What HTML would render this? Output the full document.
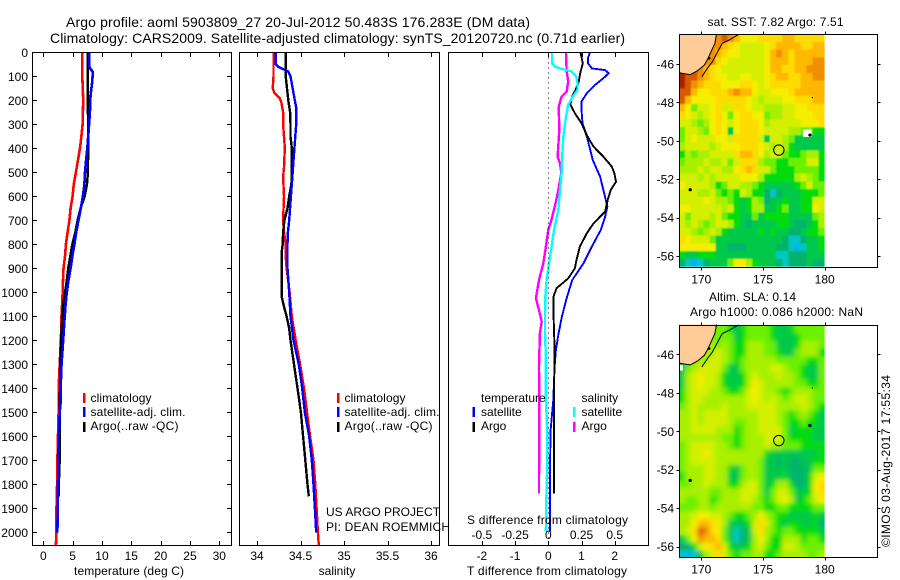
<!DOCTYPE html>
<html lang="en">
<head>
<meta charset="utf-8">
<title>Argo profile 5903809_27</title>
<style>
html,body{margin:0;padding:0;background:#fff;width:900px;height:580px;overflow:hidden}
svg{display:block}
text{font-family:"Liberation Sans",Arial,sans-serif;font-size:12px;fill:#000}
.title{font-size:14px}
.crisp{shape-rendering:crispEdges}
</style>
</head>
<body>
<svg id="chart" xmlns="http://www.w3.org/2000/svg" width="900" height="580" viewBox="0 0 900 580">
  <defs>
    <filter id="soft-sst" filterUnits="userSpaceOnUse" x="670" y="25" width="170" height="250">
      <feGaussianBlur in="SourceGraphic" stdDeviation="0.9" result="b"/>
      <feMerge><feMergeNode in="SourceGraphic"/><feMergeNode in="b"/></feMerge>
    </filter>
    <filter id="soft-sla" filterUnits="userSpaceOnUse" x="670" y="315" width="170" height="250">
      <feGaussianBlur in="SourceGraphic" stdDeviation="2.4" result="b"/>
      <feMerge><feMergeNode in="SourceGraphic"/><feMergeNode in="b"/></feMerge>
    </filter>
    <clipPath id="clip-sst"><rect x="679.5" y="34.5" width="145.2" height="233"/></clipPath>
    <clipPath id="clip-sla"><rect x="679.5" y="325.5" width="145.2" height="232"/></clipPath>
  </defs>
  <rect x="0" y="0" width="900" height="580" fill="#fff"/>
  <text class="title" x="66" y="27" textLength="464">Argo profile: aoml 5903809_27 20-Jul-2012 50.483S 176.283E (DM data)</text>
  <text class="title" x="50" y="43" textLength="575">Climatology: CARS2009. Satellite-adjusted climatology: synTS_20120720.nc (0.71d earlier)</text>

  <g id="heat-layer"></g>
  <g id="line-layer"></g>
  <g id="axis-layer"></g>

  <text x="129" y="575" text-anchor="middle" textLength="110">temperature (deg C)</text>
  <text x="337" y="575" text-anchor="middle">salinity</text>
  <text x="467" y="575" textLength="160">T difference from climatology</text>
  <text x="467" y="524" textLength="161">S difference from climatology</text>

  <g>
    <rect class="crisp" x="83" y="393" width="2.5" height="10" fill="#f00"/>
    <rect class="crisp" x="83" y="407" width="2.5" height="10" fill="#00f"/>
    <rect class="crisp" x="83" y="422" width="2.5" height="10" fill="#000"/>
    <text x="90.5" y="402" textLength="61">climatology</text>
    <text x="90.5" y="416" textLength="95">satellite-adj. clim.</text>
    <text x="90.5" y="430" textLength="88">Argo(..raw -QC)</text>
  </g>
  <g>
    <rect class="crisp" x="337" y="393" width="2.5" height="10" fill="#f00"/>
    <rect class="crisp" x="337" y="407" width="2.5" height="10" fill="#00f"/>
    <rect class="crisp" x="337" y="422" width="2.5" height="10" fill="#000"/>
    <text x="344.5" y="402" textLength="61">climatology</text>
    <text x="344.5" y="416" textLength="95">satellite-adj. clim.</text>
    <text x="344.5" y="430" textLength="88">Argo(..raw -QC)</text>
  </g>
  <text x="326" y="516">US ARGO PROJECT</text>
  <text x="326" y="531" textLength="124">PI: DEAN ROEMMICH</text>
  <g>
    <text x="481" y="402">temperature</text>
    <text x="581.5" y="402">salinity</text>
    <rect class="crisp" x="472.5" y="407" width="2.5" height="10" fill="#00f"/>
    <rect class="crisp" x="472.5" y="422" width="2.5" height="10" fill="#000"/>
    <rect class="crisp" x="573" y="407" width="2.5" height="10" fill="#0ff"/>
    <rect class="crisp" x="573" y="422" width="2.5" height="10" fill="#f0f"/>
    <text x="481" y="416">satellite</text>
    <text x="481" y="430">Argo</text>
    <text x="581.5" y="416">satellite</text>
    <text x="581.5" y="430">Argo</text>
  </g>
  <text x="707.5" y="26" textLength="136">sat. SST: 7.82 Argo: 7.51</text>
  <text x="709" y="301" textLength="87">Altim. SLA: 0.14</text>
  <text x="690" y="316" textLength="173">Argo h1000: 0.086 h2000: NaN</text>
  <text transform="translate(890,547) rotate(-90)" textLength="172">©IMOS 03-Aug-2017 17:55:34</text>
</svg>
<script>
// ---- Profile data: temperature panel (depth in m, value in deg C)
const tempDepthTicks = [0,100,200,300,400,500,600,700,800,900,1000,1100,1200,1300,1400,1500,1600,1700,1800,1900,2000];
const tempTicks = [0,5,10,15,20,25,30];
const tempClimDepth = [0,100,200,300,350,400,450,500,550,600,650,700,750,800,850,900,950,1000,1100,1200,1300,1400,1500,1600,1700,1800,1900,2000,2054];
const tempClimValue = [6.65,6.65,6.8,6.7,6.5,6.25,5.9,5.55,5.2,5,4.65,4.45,4.15,3.85,3.7,3.45,3.35,3.3,3.1,3,2.8,2.6,2.6,2.5,2.4,2.35,2.25,2.25,2.15];
const tempSatDepth = [0,60,70,80,100,130,180,250,300,400,450,500,550,600,650,700,750,800,850,900,950,1000,1050,1100,1200,1300,1400,1460,1500,1600,1700,1800,1900,2000];
const tempSatValue = [7.85,7.85,8.05,8.4,8.4,8.3,8.05,7.95,7.8,7.5,7.3,7.1,7,6.75,6.4,6,5.6,5.3,4.95,4.65,4.3,4,3.8,3.65,3.4,3.1,2.95,2.95,2.8,2.65,2.55,2.5,2.45,2.4];
const tempArgoDepth = [0,100,200,300,400,500,550,600,650,700,750,800,850,900,950,1000,1050,1100,1200,1300,1400,1500,1600,1700,1800,1850];
const tempArgoValue = [7.55,7.55,7.55,7.65,7.65,7.6,7.45,7.05,6.35,5.85,5.45,4.95,4.6,4.25,4,3.7,3.4,3.25,3,2.9,2.85,2.8,2.8,2.8,2.65,2.65];

// ---- Salinity panel
const salTicks = [34,34.5,35,35.5,36];
const salTickLabels = ['34','34.5','35','35.5','36'];
const salClimDepth = [0,50,100,150,170,190,210,250,300,350,400,480,520,600,700,750,800,850,900,1000,1100,1200,1300,1400,1500,1600,1700,1800,1900,2000,2054];
const salClimValue = [34.19,34.19,34.19,34.18,34.2,34.26,34.28,34.3,34.3,34.31,34.32,34.31,34.3,34.31,34.3,34.31,34.33,34.33,34.34,34.375,34.4,34.445,34.495,34.54,34.575,34.61,34.65,34.67,34.685,34.7,34.71];
const salSatDepth = [0,50,60,70,80,100,130,170,200,230,300,350,400,450,500,600,700,750,800,900,1000,1100,1200,1300,1400,1500,1600,1700,1800,1900,2000];
const salSatValue = [34.215,34.215,34.245,34.3,34.36,34.385,34.4,34.42,34.435,34.45,34.45,34.44,34.43,34.42,34.41,34.39,34.37,34.355,34.35,34.35,34.37,34.385,34.42,34.48,34.52,34.55,34.6,34.63,34.65,34.665,34.68];
const salArgoDepth = [0,100,150,200,250,300,350,400,500,550,600,650,700,750,800,830,900,1000,1020,1060,1100,1150,1200,1300,1400,1500,1600,1700,1800,1850];
const salArgoValue = [34.33,34.33,34.345,34.36,34.38,34.385,34.385,34.4,34.4,34.395,34.37,34.35,34.315,34.3,34.295,34.285,34.285,34.285,34.285,34.31,34.34,34.37,34.385,34.425,34.465,34.505,34.53,34.555,34.58,34.595];

// ---- Difference panel
const diffTTicks = [-2,-1,0,1,2];
const diffSTicks = [-0.5,-0.25,0,0.25,0.5];
const diffSTickLabels = ['-0.5','-0.25','0','0.25','0.5'];
const dTSatDepth = [0,25,46,67,74,87,108,136,171,205,240,296,351,449,518,574,643,685,740,810,879,949,1025,1101,1171,1240,1310,1449,1574,1726,1865,1997];
const dTSatValue = [1.26,1.19,1.2,1.31,1.71,1.82,1.66,1.41,1.16,1,1,1.03,1.16,1.34,1.56,1.66,1.78,1.71,1.58,1.31,1.06,0.72,0.55,0.41,0.31,0.23,0.19,0.15,0.07,0.05,0.05,0.05];
const dTArgoDepth = [0,46,67,87,122,157,185,219,254,296,351,393,435,476,504,539,574,615,664,713,754,810,865,900,942,983,1020,1101,1240,1449,1838];
const dTArgoValue = [0.97,1.04,1,0.96,0.92,0.82,0.71,0.67,0.8,1,1.18,1.36,1.66,1.91,1.99,2.04,1.88,1.79,1.71,1.36,1.16,0.95,0.85,0.8,0.6,0.25,0.15,0.16,0.19,0.17,0.17];
const dSSatDepth = [0,46,60,71,80,101,129,157,185,219,268,351,435,504,574,657,740,810,879,949,1025,1101,1171,1240,1310,1449,1574,1726,1865,1997];
const dSSatValue = [0.028,0.028,0.05,0.113,0.176,0.21,0.22,0.22,0.183,0.15,0.133,0.113,0.105,0.1,0.088,0.075,0.043,0.025,0.005,-0.013,-0.023,-0.025,-0.025,-0.02,-0.018,-0.018,-0.008,-0.008,-0.015,-0.018];
const dSArgoDepth = [0,74,122,164,185,226,324,435,463,504,574,629,699,740,810,879,949,1025,1074,1122,1171,1310,1449,1838];
const dSArgoValue = [0.133,0.138,0.15,0.138,0.1,0.078,0.083,0.07,0.088,0.098,0.075,0.055,0.023,0,-0.018,-0.038,-0.07,-0.093,-0.07,-0.05,-0.063,-0.07,-0.068,-0.07];

// ---- Map data
const mapLonTicks = [170,175,180];
const mapLatTicks = [-46,-48,-50,-52,-54,-56];
const floatLon = 176.283;
const floatLat = -50.483;
const landLon = [168.2,171.23,171.1,170.85,170.55,170.25,169.7,169.1,168.47,168.2];
const landLat = [-44.45,-44.45,-44.92,-45.27,-45.7,-46.05,-46.35,-46.55,-46.49,-46.45];
const coastLon = [173,172.25,171.7,171.4,170.9,170.5,170.04];
const coastLat = [-44.47,-44.75,-44.92,-45.27,-45.88,-46.22,-46.66];
const islandLon = [178.8,169.1,179,170.63];
const islandLat = [-49.7,-52.55,-47.75,-45.7];
const islandRadius = [1.6,1.6,0.6,1.4];
const gapSstLon = [178.25,178.95];
const gapSstLat = [-49.4,-49.8];
const gapSlaLon = [168.25,168.5];
const gapSlaLat = [-46.55,-46.85];
// colour index per grid cell; 24 columns 168.2E..180E, 30 rows 44.45S..56.55S
const sstGrid = [
[11,11,11,11,11,11,11,12,11,10,8,8,8,9,9,9,9,10,10,9,9,9,9,9],
[11,11,11,11,11,11,11,10,9,8,7,7,7,7,8,9,10,10,10,10,9,9,10,10],
[11,11,11,11,11,11,10,9,8,8,7,7,7,7,8,10,11,10,9,10,10,10,10,10],
[11,11,11,11,11,11,9,8,7,7,7,7,7,7,8,10,10,10,9,10,10,10,11,11],
[12,12,12,11,10,9,8,7,7,7,7,7,7,7,8,10,10,9,9,10,10,11,11,11],
[13,12,12,11,10,9,8,8,7,7,8,8,7,7,8,9,10,10,9,9,10,10,11,11],
[13,12,11,10,9,9,9,8,8,8,9,9,8,7,8,9,9,9,9,9,10,10,10,10],
[12,12,10,8,8,9,9,9,10,11,10,10,8,7,7,8,8,8,9,10,10,10,10,10],
[12,10,8,8,8,8,9,9,9,9,9,8,7,6,7,7,7,8,8,9,9,9,10,10],
[10,8,5,7,7,8,9,7,7,9,9,8,7,7,6,6,6,7,7,8,8,9,9,9],
[9,8,7,6,7,8,9,8,5,8,9,9,8,8,5,6,6,7,7,8,8,8,9,9],
[7,7,6,5,6,8,9,8,7,8,9,9,9,8,6,7,7,7,7,7,8,8,8,9],
[5,7,7,6,5,8,9,8,3,8,9,9,9,8,7,7,7,7,6,6,5,5,4,4],
[5,7,8,7,7,7,8,8,7,9,9,9,9,7,3,7,7,6,5,3,3,3,3,3],
[6,7,7,7,7,6,7,8,8,8,9,9,9,8,7,6,7,6,4,3,3,3,3,3],
[4,6,5,6,6,7,7,7,7,9,10,10,9,8,6,7,7,5,4,4,5,6,6,4],
[5,6,6,6,7,6,6,7,5,7,9,9,9,6,5,5,4,4,5,5,5,7,7,4],
[6,6,6,7,6,7,7,6,6,8,9,10,9,7,7,5,4,4,4,5,5,5,5,4],
[7,7,7,6,7,6,7,7,7,7,8,8,8,6,4,4,4,4,4,6,7,6,5,4],
[8,7,7,7,7,6,4,5,7,7,6,6,5,4,3,3,3,3,3,4,5,7,5,5],
[7,7,7,6,6,7,5,4,5,4,7,6,4,4,2,1,2,3,3,3,4,4,4,5],
[7,7,7,7,8,7,6,6,5,4,3,4,6,5,2,3,3,4,3,3,4,4,7,7],
[8,8,7,7,7,7,7,6,7,4,3,4,6,6,3,3,4,5,3,3,4,4,8,7],
[7,5,7,7,7,6,7,5,4,4,3,3,5,3,4,4,4,4,3,3,3,3,5,6],
[7,6,7,6,5,6,7,7,6,4,3,2,3,3,3,3,4,4,3,2,2,3,4,6],
[7,7,6,5,6,7,6,4,3,3,3,3,3,4,3,4,3,3,2,2,3,4,4,5],
[9,8,7,7,7,5,3,3,3,3,3,3,3,3,3,3,3,2,1,1,2,3,3,4],
[8,8,8,8,8,8,3,3,2,2,2,3,3,3,3,3,2,2,1,0,1,3,3,4],
[4,3,3,4,4,4,3,3,3,3,3,3,3,3,3,3,1,1,2,2,2,3,3,3],
[2,1,0,1,2,3,3,3,5,8,8,6,4,3,3,3,2,1,2,2,2,3,2,2]
];
const slaGrid = [
[5,5,5,5,5,5,5,5,4,3,4,5,5,5,5,4,3,3,4,5,5,5,5,5],
[5,5,5,5,5,5,5,5,5,3,4,5,5,5,5,4,3,3,3,4,5,5,5,5],
[5,5,5,5,5,6,5,6,5,4,4,6,6,6,5,5,3,3,3,4,6,6,6,5],
[5,5,5,5,6,6,7,6,5,4,4,6,6,6,5,5,4,3,3,5,6,6,6,4],
[4,4,5,6,6,7,7,6,5,4,5,6,6,6,6,6,5,5,5,5,5,4,4,5],
[3,5,6,7,7,7,7,5,3,3,5,6,6,6,6,7,7,6,5,5,4,3,3,5],
[3,6,7,8,7,7,6,4,3,3,4,6,7,6,6,6,7,6,6,5,4,3,3,5],
[3,6,7,8,7,7,6,4,3,3,4,6,8,7,6,6,6,6,6,5,5,4,4,5],
[4,6,7,7,7,6,6,5,4,4,5,7,8,7,6,6,5,4,5,6,6,6,5,5],
[4,6,7,7,6,6,6,6,6,6,6,7,8,7,6,7,6,5,6,7,7,6,5,5],
[5,6,7,6,6,6,6,7,6,6,6,7,7,7,7,7,6,6,6,6,7,6,5,4],
[6,6,7,6,7,7,7,7,6,6,6,6,6,7,7,7,6,5,4,5,6,5,4,3],
[6,6,7,6,7,7,7,7,6,5,5,6,6,7,7,7,6,5,4,4,5,4,4,3],
[6,6,7,7,7,7,6,6,6,4,5,6,6,7,7,7,7,5,3,4,4,4,3,3],
[6,6,6,6,6,6,6,5,5,4,5,6,6,6,7,7,7,5,4,4,4,4,3,3],
[5,6,7,7,7,7,6,6,5,4,5,6,6,6,7,6,6,5,5,5,4,4,4,4],
[5,6,7,7,8,7,6,6,6,6,6,6,6,6,4,3,3,3,3,3,3,3,3,4],
[5,6,7,7,7,7,6,6,6,6,6,6,6,5,3,3,2,3,2,2,3,3,4,4],
[5,6,6,6,7,7,6,6,4,3,5,6,6,5,3,3,3,3,2,2,2,3,5,5],
[4,6,6,6,7,7,6,6,3,3,5,6,6,5,3,3,3,4,2,2,2,4,7,8],
[5,5,6,6,7,6,6,6,4,4,6,7,7,5,3,4,6,6,4,2,2,4,8,9],
[6,6,6,6,6,5,5,6,6,6,7,7,7,5,3,5,7,7,5,3,3,4,8,9],
[6,5,5,6,6,4,5,6,6,6,7,7,6,5,4,5,7,8,6,3,4,5,7,8],
[5,5,5,6,6,5,6,6,6,6,6,6,5,5,4,4,5,5,4,4,4,4,5,5],
[6,6,7,8,8,7,7,6,5,4,4,5,6,8,6,5,4,4,3,3,3,3,4,3],
[6,6,8,10,10,9,8,6,3,3,3,4,7,9,7,5,4,3,4,4,3,3,4,2],
[6,7,9,12,11,9,8,5,3,1,2,3,7,9,6,5,4,5,5,4,4,4,4,3],
[3,5,8,11,10,10,9,5,3,1,2,3,6,8,6,4,4,6,6,6,4,5,5,4],
[2,2,4,7,8,9,10,7,4,3,3,4,6,7,5,4,4,7,7,6,5,5,5,5],
[1,0,1,3,6,7,9,7,5,4,5,5,6,6,4,4,5,6,6,6,6,5,5,6]
];
const mapPalette = ['#00b4f0','#00c8c0','#00b46e','#00c84a','#00dc10','#6cf000','#a8f000','#d4f000','#f4ee00','#ffdc00','#ffb800','#f09000','#d85a00','#a82000'];

// ---- Axis functions
function xTemp(v){ return 43.3 + 5.867 * v; }
function xSal(v){ return 257 + 87 * (v - 34); }
function xDiffT(v){ return 548.3 + 33.2 * v; }
function xDiffS(v){ return 548.3 + 132.8 * v; }
function yDepth(d){ return 52.3 + 0.24 * d; }
function xLon(lon){ return 701.3 + 12.34 * (lon - 170); }
function ySst(lat){ return 64 + 19.2 * (-46 - lat); }
function ySla(lat){ return 354.3 + 19.24 * (-46 - lat); }

const NS = 'http://www.w3.org/2000/svg';
const heatLayer = document.getElementById('heat-layer');
const lineLayer = document.getElementById('line-layer');
const axisLayer = document.getElementById('axis-layer');

function makeEl(parent, tag, attrs){
  const e = document.createElementNS(NS, tag);
  for (const k in attrs) e.setAttribute(k, attrs[k]);
  parent.appendChild(e);
  return e;
}
function makeSeries(depths, values, xFn, color, width){
  const pts = depths.map((d,i) => xFn(values[i]).toFixed(1) + ',' + yDepth(d).toFixed(1)).join(' ');
  return makeEl(lineLayer, 'polyline', {points: pts, fill: 'none', stroke: color, 'stroke-width': width, 'stroke-linejoin': 'miter', class: 'crisp'});
}
function makeBox(x0, y0, x1, y1){
  return makeEl(axisLayer, 'rect', {x: x0, y: y0, width: x1 - x0, height: y1 - y0, fill: 'none', stroke: '#000', 'stroke-width': 1, class: 'crisp'});
}
function makeTick(x0, y0, x1, y1){
  return makeEl(axisLayer, 'line', {x1: x0, y1: y0, x2: x1, y2: y1, stroke: '#000', 'stroke-width': 1, class: 'crisp'});
}
function makeLabel(x, y, str, anchor){
  const t = makeEl(axisLayer, 'text', {x: x, y: y, 'text-anchor': anchor});
  t.textContent = str;
  return t;
}
function px(v){ return Math.round(v) + 0.5; }

// ---- Series
let s;
s = makeSeries(tempClimDepth, tempClimValue, xTemp, '#f00', 2.6);


s = makeSeries(tempArgoDepth, tempArgoValue, xTemp, '#000', 2.4);


s = makeSeries(tempSatDepth, tempSatValue, xTemp, '#00f', 2.6);


s = makeSeries(salClimDepth, salClimValue, xSal, '#f00', 2.4);


s = makeSeries(salArgoDepth, salArgoValue, xSal, '#000', 2.4);


s = makeSeries(salSatDepth, salSatValue, xSal, '#00f', 2.4);


s = makeSeries(dTSatDepth, dTSatValue, xDiffT, '#00f', 1.9);


s = makeSeries(dTArgoDepth, dTArgoValue, xDiffT, '#000', 1.9);


s = makeSeries(dSArgoDepth, dSArgoValue, xDiffS, '#f0f', 2.4);


s = makeSeries(dSSatDepth, dSSatValue, xDiffS, '#0ff', 2.4);



// zero reference line in the difference panel
const zeroLine = makeEl(lineLayer, 'line', {x1: px(xDiffT(0)), y1: yDepth(0), x2: px(xDiffT(0)), y2: yDepth(2054), stroke: '#000', 'stroke-width': 1, 'stroke-dasharray': '1 4', class: 'crisp'});



// ---- Panels and ticks
const panelTop = 52.5, panelBottom = 545.5;
const panels = [
  {name: 'temperature-panel', x0: 32.5, x1: 231.5},
  {name: 'salinity-panel', x0: 239.5, x1: 439.5},
  {name: 'difference-panel', x0: 448.5, x1: 648.5}
];
panels.forEach(p => {
  const b = makeBox(p.x0, panelTop, p.x1, panelBottom);
  
  
});
tempDepthTicks.forEach(d => {
  const y = px(yDepth(d));
  const a = makeTick(32.5, y, 37, y);
  
  
  const b = makeTick(227, y, 231.5, y);
  
  
  const l = makeLabel(28, yDepth(d) + 4.5, String(d), 'end');
  
  
});
tempTicks.forEach(v => {
  const x = px(xTemp(v));
  const a = makeTick(x, panelTop, x, panelTop + 4.5);
  
  
  const b = makeTick(x, panelBottom - 4.5, x, panelBottom);
  
  
  const l = makeLabel(xTemp(v), 560, String(v), 'middle');
  
  
});
salTicks.forEach((v, i) => {
  const x = px(xSal(v));
  const a = makeTick(x, panelTop, x, panelTop + 4.5);
  
  
  const b = makeTick(x, panelBottom - 4.5, x, panelBottom);
  
  
  const l = makeLabel(xSal(v), 560, salTickLabels[i], 'middle');
  
  
});
diffTTicks.forEach(v => {
  const x = px(xDiffT(v));
  const a = makeTick(x, panelTop, x, panelTop + 4.5);
  
  
  const b = makeTick(x, panelBottom - 4.5, x, panelBottom);
  
  
  const l = makeLabel(xDiffT(v), 560, String(v), 'middle');
  
  
});
diffSTicks.forEach((v, i) => {
  const l = makeLabel(xDiffS(v), 539, diffSTickLabels[i], 'middle');
  
  
});

// ---- Maps
function drawMap(grid, yFn, mapName, top, bottom, xLabelY, softId, clipId, gapLon, gapLat){
  const lonStep = (180 - 168.2) / grid[0].length;
  const latTop = yFn === ySst ? -44.45 : -44.49;
  const latStep = 12.1 / grid.length;
  const cellGroup = makeEl(heatLayer, 'g', {filter: 'url(#' + softId + ')', 'clip-path': 'url(#' + clipId + ')'});
  
  
  grid.forEach((row, r) => {
    row.forEach((idx, c) => {
      const x0 = xLon(168.2 + c * lonStep);
      const x1 = xLon(168.2 + (c + 1) * lonStep);
      const y0 = yFn(latTop - r * latStep);
      const y1 = yFn(latTop - (r + 1) * latStep);
      const cell = makeEl(cellGroup, 'rect', {x: x0.toFixed(2), y: y0.toFixed(2), width: (x1 - x0).toFixed(2), height: (y1 - y0).toFixed(2), fill: mapPalette[idx], class: 'crisp'});
      
      
    });
  });
  const gap = makeEl(heatLayer, 'rect', {x: xLon(gapLon[0]).toFixed(1), y: yFn(gapLat[0]).toFixed(1), width: (xLon(gapLon[1]) - xLon(gapLon[0])).toFixed(1), height: (yFn(gapLat[1]) - yFn(gapLat[0])).toFixed(1), fill: '#fff', class: 'crisp'});
  
  
  const land = makeEl(heatLayer, 'polygon', {points: landLon.map((v, i) => xLon(v).toFixed(1) + ',' + yFn(landLat[i]).toFixed(1)).join(' '), fill: '#ffcc99'});
  
  
  const shore = makeEl(heatLayer, 'polyline', {points: landLon.slice(1).map((v, i) => xLon(v).toFixed(1) + ',' + yFn(landLat[i + 1]).toFixed(1)).join(' '), fill: 'none', stroke: '#000', 'stroke-width': 1});
  
  
  const coast = makeEl(heatLayer, 'polyline', {points: coastLon.map((v, i) => xLon(v).toFixed(1) + ',' + yFn(coastLat[i]).toFixed(1)).join(' '), fill: 'none', stroke: '#000', 'stroke-width': 1});
  
  
  islandLon.forEach((v, i) => {
    const dot = makeEl(heatLayer, 'circle', {cx: xLon(v), cy: yFn(islandLat[i]), r: islandRadius[i], fill: '#000'});
    
    
  });
  const marker = makeEl(heatLayer, 'circle', {cx: xLon(floatLon), cy: yFn(floatLat), r: 5.2, fill: 'none', stroke: '#000', 'stroke-width': 1});
  
  
  const box = makeBox(679.5, top, 877.5, bottom);
  
  
  mapLonTicks.forEach(v => {
    const x = px(xLon(v));
    const a = makeTick(x, top - 3, x, top);
    
    
    const b = makeTick(x, bottom, x, bottom + 3);
    
    
    const l = makeLabel(xLon(v), xLabelY, String(v), 'middle');
    
    
  });
  mapLatTicks.forEach(v => {
    const y = px(yFn(v));
    const a = makeTick(676.5, y, 679.5, y);
    
    
    const b = makeTick(877.5, y, 880.5, y);
    
    
    const l = makeLabel(674, yFn(v) + 4.5, String(v), 'end');
    
    
  });
}
drawMap(sstGrid, ySst, 'sst-map', 34.5, 267.5, 283.5, 'soft-sst', 'clip-sst', gapSstLon, gapSstLat);
drawMap(slaGrid, ySla, 'sla-map', 325.5, 557.5, 573.5, 'soft-sla', 'clip-sla', gapSlaLon, gapSlaLat);
</script>
</body>
</html>
